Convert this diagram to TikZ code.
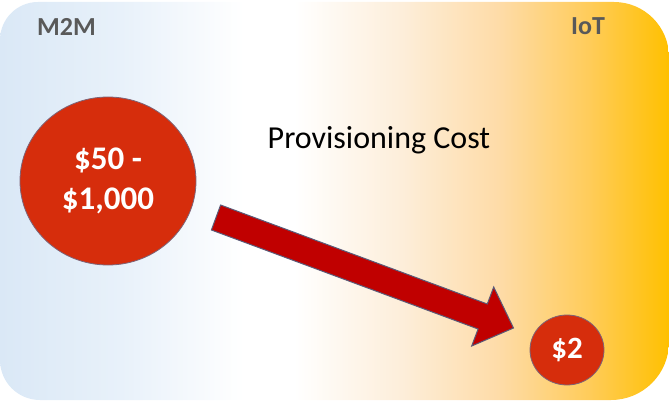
\documentclass[tikz,border=0pt]{standalone}
\usepackage{fontspec}
\setmainfont{Carlito}
\usetikzlibrary{shapes.geometric}
\definecolor{bgblue}{RGB}{218,232,246}
\definecolor{bgblueb}{RGB}{232,241,250}
\definecolor{peach}{RGB}{253,238,218}
\definecolor{peachb}{RGB}{254,219,166}
\definecolor{ambera}{RGB}{255,204,90}
\definecolor{amber}{RGB}{255,192,0}
\definecolor{circfill}{RGB}{214,45,12}
\definecolor{circline}{RGB}{125,100,120}
\definecolor{arrfill}{RGB}{192,0,0}
\definecolor{arrline}{RGB}{90,90,120}
\definecolor{labgray}{RGB}{89,89,89}
% path bounding box maps onto 25bp..75bp of the shading
\pgfdeclarehorizontalshading{bgshade}{100bp}{%
  color(0bp)=(bgblue);
  color(25bp)=(bgblue);
  color(34bp)=(bgblueb);
  color(43.25bp)=(white);
  color(47bp)=(white);
  color(55bp)=(peach);
  color(62.5bp)=(peachb);
  color(69bp)=(ambera);
  color(75bp)=(amber);
  color(100bp)=(amber)}
\tikzset{
  bubble/.style={ellipse, fill=circfill, draw=circline, line width=0.8pt,
    text=white, font=\bfseries, align=center, inner sep=0pt},
  headlabel/.style={text=labgray, font=\fontsize{26}{28}\selectfont\bfseries, inner sep=0pt},
  blockarrow/.style={fill=arrfill, draw=arrline, line width=1pt, line join=miter}
}
\begin{document}
\begin{tikzpicture}[x=1pt,y=-1pt]
\useasboundingbox (0,0) rectangle (669,401);
% background panel with different corner radii
\path[shading=bgshade]
  (0,40) arc[start angle=180, end angle=270, radius=38] -- (614,2)
  arc[start angle=270, end angle=360, radius=55] -- (669,342)
  arc[start angle=0, end angle=90, radius=58] -- (40,400)
  arc[start angle=90, end angle=180, radius=40] -- cycle;
% labels
\node[headlabel, anchor=base west] (m2m) at (37,36) {M2M};
\node[headlabel, anchor=base west] (iot) at (571,35) {IoT};
\node[font=\fontsize{32}{36}\selectfont, anchor=base] (title) at (379,149) {Provisioning Cost};
% circles
\node[bubble, minimum width=176, minimum height=168,
  font=\fontsize{33}{40}\selectfont\bfseries] (big) at (108,181) {\$50 -\\\$1,000};
\node[bubble, minimum width=74, minimum height=70,
  font=\fontsize{31}{34}\selectfont\bfseries] (small) at (567,350) {\$2};
% block arrow
\coordinate (a1) at (220.6,205.0);
\coordinate (a2) at (487.3,304.0);
\coordinate (a3) at (493.7,287.0);
\coordinate (tip) at (513.5,328.0);
\coordinate (a5) at (471.7,346.0);
\coordinate (a6) at (478.1,329.0);
\coordinate (a7) at (211.4,230.0);
\path[blockarrow] (a1) -- (a2) -- (a3) -- (tip) -- (a5) -- (a6) -- (a7) -- cycle;
\end{tikzpicture}
\end{document}
